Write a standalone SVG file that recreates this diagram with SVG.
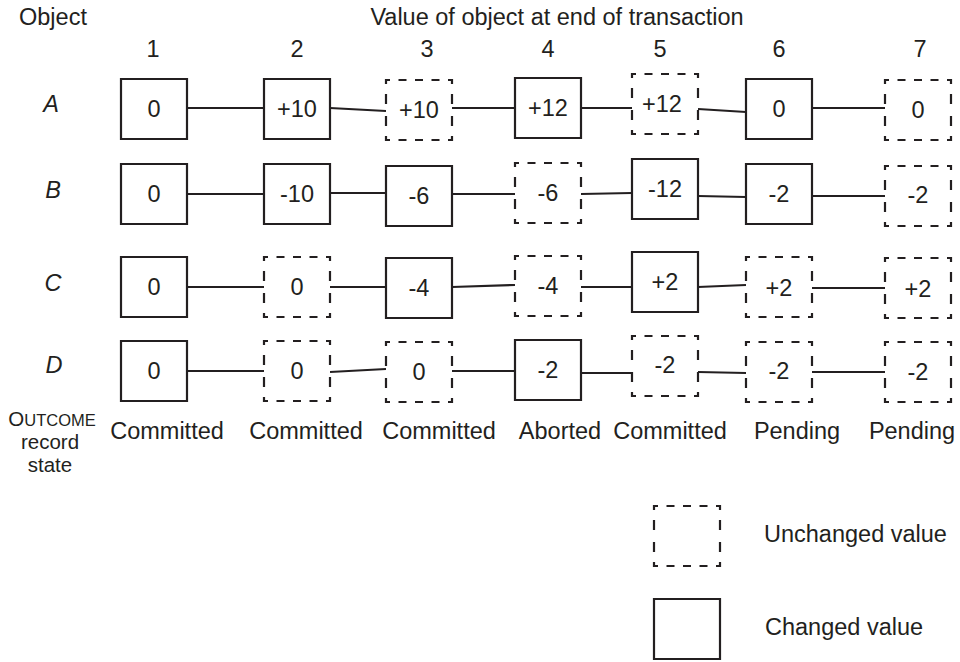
<svg xmlns="http://www.w3.org/2000/svg" xmlns:xlink="http://www.w3.org/1999/xlink" width="960" height="662" viewBox="0 0 960 662">
  <style>
    text { font-family: "Liberation Sans", Arial, Helvetica, sans-serif; font-size: 23.5px; fill: #231f20; }
    .val { text-anchor: middle; }
    .mid { text-anchor: middle; }
    .row { font-style: italic; text-anchor: middle; }
    .lbl { font-size: 20.5px; text-anchor: middle; }
    .box { fill: #fff; stroke: #231f20; stroke-width: 2.2; }
    .dash { stroke-dasharray: 8 8.5 8 8.5 8 8.5 8 8.5 8 10 10 12 10 10 8 8.5 8 8.5 8 8.5 8 8.5 8 10 10 12 10 10; stroke-dashoffset: 4; }
    #connectors line { stroke: #231f20; stroke-width: 2.2; }
  </style>
  <defs>
    <!-- 66 x 60 value cell, drawn clockwise from the top-left corner -->
    <path id="cell" d="M0 0h66v60h-66z"/>
  </defs>
  <rect width="960" height="662" fill="#fff"/>

  <!-- headings -->
  <text x="19" y="25">Object</text>
  <text class="mid" x="557" y="25">Value of object at end of transaction</text>
  <g id="columns" class="mid">
    <text class="mid" x="153" y="57">1</text>
    <text class="mid" x="297" y="57">2</text>
    <text class="mid" x="427" y="57">3</text>
    <text class="mid" x="548" y="57">4</text>
    <text class="mid" x="660" y="57">5</text>
    <text class="mid" x="779" y="57">6</text>
    <text class="mid" x="920" y="57">7</text>
  </g>
  <text class="row" x="51" y="112">A</text>
  <text class="row" x="53" y="198">B</text>
  <text class="row" x="53" y="291">C</text>
  <text class="row" x="54" y="373">D</text>

  <!-- connectors between successive values of each object -->
  <g id="connectors">
    <line x1="187" y1="108" x2="264" y2="108"/>
    <line x1="330" y1="108" x2="386" y2="111"/>
    <line x1="452" y1="108" x2="515" y2="108"/>
    <line x1="581" y1="108" x2="632" y2="108"/>
    <line x1="698" y1="109" x2="746" y2="112"/>
    <line x1="812" y1="108" x2="885" y2="108"/>

    <line x1="187" y1="194" x2="264" y2="194"/>
    <line x1="330" y1="193" x2="386" y2="193"/>
    <line x1="452" y1="194" x2="515" y2="194"/>
    <line x1="581" y1="194" x2="632" y2="193"/>
    <line x1="698" y1="196" x2="746" y2="197"/>
    <line x1="812" y1="196" x2="885" y2="196"/>

    <line x1="187" y1="287" x2="264" y2="287"/>
    <line x1="330" y1="287" x2="386" y2="287"/>
    <line x1="452" y1="287" x2="515" y2="285"/>
    <line x1="581" y1="287" x2="632" y2="287"/>
    <line x1="698" y1="287" x2="746" y2="285"/>
    <line x1="812" y1="288" x2="885" y2="288"/>

    <line x1="187" y1="371" x2="264" y2="371"/>
    <line x1="330" y1="372" x2="386" y2="369"/>
    <line x1="452" y1="371" x2="515" y2="371"/>
    <line x1="581" y1="373" x2="632" y2="373"/>
    <line x1="698" y1="372" x2="746" y2="373"/>
    <line x1="812" y1="372" x2="885" y2="372"/>
  </g>

  <!-- object A -->
  <g id="A1"><use href="#cell" class="box" x="121" y="79"/><text class="val" x="154" y="117">0</text></g>
  <g id="A2"><use href="#cell" class="box" x="264" y="79"/><text class="val" x="297" y="117">+10</text></g>
  <g id="A3"><use href="#cell" class="box dash" x="386" y="80"/><text class="val" x="419" y="118">+10</text></g>
  <g id="A4"><use href="#cell" class="box" x="515" y="78"/><text class="val" x="548" y="116">+12</text></g>
  <g id="A5"><use href="#cell" class="box dash" x="632" y="74"/><text class="val" x="662" y="112">+12</text></g>
  <g id="A6"><use href="#cell" class="box" x="746" y="79"/><text class="val" x="779" y="117">0</text></g>
  <g id="A7"><use href="#cell" class="box dash" x="885" y="80"/><text class="val" x="918" y="118">0</text></g>

  <!-- object B -->
  <g id="B1"><use href="#cell" class="box" x="121" y="164"/><text class="val" x="154" y="202">0</text></g>
  <g id="B2"><use href="#cell" class="box" x="264" y="164"/><text class="val" x="297" y="202">-10</text></g>
  <g id="B3"><use href="#cell" class="box" x="386" y="166"/><text class="val" x="419" y="204">-6</text></g>
  <g id="B4"><use href="#cell" class="box dash" x="515" y="163"/><text class="val" x="548" y="201">-6</text></g>
  <g id="B5"><use href="#cell" class="box" x="632" y="159"/><text class="val" x="665" y="197">-12</text></g>
  <g id="B6"><use href="#cell" class="box" x="746" y="164"/><text class="val" x="779" y="202">-2</text></g>
  <g id="B7"><use href="#cell" class="box dash" x="885" y="166"/><text class="val" x="918" y="203">-2</text></g>

  <!-- object C -->
  <g id="C1"><use href="#cell" class="box" x="121" y="257"/><text class="val" x="154" y="295">0</text></g>
  <g id="C2"><use href="#cell" class="box dash" x="264" y="257"/><text class="val" x="297" y="295">0</text></g>
  <g id="C3"><use href="#cell" class="box" x="386" y="258"/><text class="val" x="419" y="296">-4</text></g>
  <g id="C4"><use href="#cell" class="box dash" x="515" y="256"/><text class="val" x="548" y="294">-4</text></g>
  <g id="C5"><use href="#cell" class="box" x="632" y="252"/><text class="val" x="665" y="290">+2</text></g>
  <g id="C6"><use href="#cell" class="box dash" x="746" y="257"/><text class="val" x="779" y="296">+2</text></g>
  <g id="C7"><use href="#cell" class="box dash" x="885" y="258"/><text class="val" x="918" y="297">+2</text></g>

  <!-- object D -->
  <g id="D1"><use href="#cell" class="box" x="121" y="341"/><text class="val" x="154" y="379">0</text></g>
  <g id="D2"><use href="#cell" class="box dash" x="264" y="341"/><text class="val" x="297" y="379">0</text></g>
  <g id="D3"><use href="#cell" class="box dash" x="386" y="342"/><text class="val" x="419" y="380">0</text></g>
  <g id="D4"><use href="#cell" class="box" x="515" y="340"/><text class="val" x="548" y="378">-2</text></g>
  <g id="D5"><use href="#cell" class="box dash" x="632" y="336"/><text class="val" x="665" y="373">-2</text></g>
  <g id="D6"><use href="#cell" class="box dash" x="746" y="342"/><text class="val" x="779" y="379">-2</text></g>
  <g id="D7"><use href="#cell" class="box dash" x="885" y="342"/><text class="val" x="918" y="380">-2</text></g>

  <!-- outcome record state of each transaction -->
  <g id="outcome">
    <text class="lbl" x="52" y="426"><tspan font-size="20.5">O</tspan><tspan font-size="16.5">UTCOME</tspan></text>
    <text class="lbl" x="50" y="449">record</text>
    <text class="lbl" x="50" y="472">state</text>
    <text class="mid" x="167" y="439">Committed</text>
    <text class="mid" x="306" y="439">Committed</text>
    <text class="mid" x="439" y="439">Committed</text>
    <text class="mid" x="560" y="439">Aborted</text>
    <text class="mid" x="670" y="439">Committed</text>
    <text class="mid" x="797" y="439">Pending</text>
    <text class="mid" x="912" y="439">Pending</text>
  </g>

  <!-- key -->
  <g id="key-unchanged"><use href="#cell" class="box dash" x="654" y="506"/><text x="764" y="542">Unchanged value</text></g>
  <g id="key-changed"><use href="#cell" class="box" x="654" y="599"/><text x="765" y="635">Changed value</text></g>
</svg>
